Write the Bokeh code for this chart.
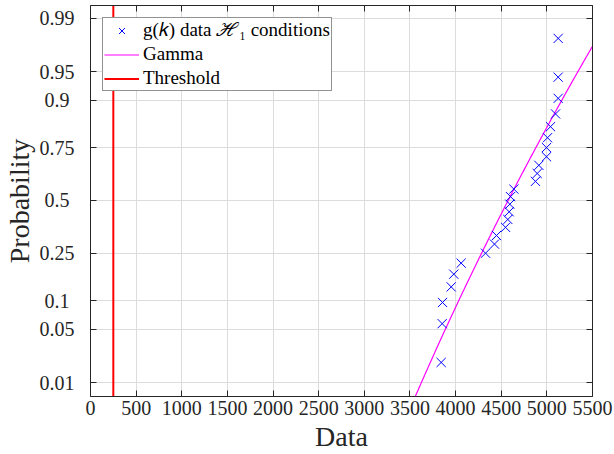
import math
from statistics import NormalDist

from bokeh.plotting import figure
from bokeh.models import (Range1d, FixedTicker, LinearAxis, Legend, LegendItem,
                          CustomJSTickFormatter)
from bokeh.embed import file_html
from bokeh.resources import INLINE

# Observed g(k) values under H1 conditions (sorted)
g_data = [3842, 3853, 3857, 3952, 3980, 4061, 4328, 4426, 4448, 4547,
          4572, 4587, 4594, 4602, 4638, 4875, 4894, 4912, 4996, 4996,
          5007, 5040, 5095, 5124, 5124, 5124]

# Fitted gamma distribution (shape k, scale theta)
gamma_shape = 108.0
gamma_scale = 42.5

# Detection threshold
threshold = 250

prob_ticks = [0.01, 0.05, 0.1, 0.25, 0.5, 0.75, 0.9, 0.95, 0.99]
prob_tick_labels = ["0.01", "0.05", "0.1", "0.25", "0.5", "0.75", "0.9", "0.95", "0.99"]
x_ticks = [0, 500, 1000, 1500, 2000, 2500, 3000, 3500, 4000, 4500, 5000, 5500]

FONT = "Liberation Serif"
INK = "#262626"
nd = NormalDist()


def prob_to_z(p):
    p = min(max(p, 1e-12), 1 - 1e-12)
    return nd.inv_cdf(p)


def gamma_cdf(x, k, theta):
    # regularized lower incomplete gamma P(k, x/theta) by series expansion
    t = x / theta
    if t <= 0:
        return 0.0
    term = 1.0 / k
    total = term
    m = 1
    while m < 5000:
        term *= t / (k + m)
        total += term
        if term < total * 1e-15:
            break
        m += 1
    return math.exp(-t + k * math.log(t) - math.lgamma(k)) * total


n = len(g_data)
plot_pos = [(i + 0.5) / n for i in range(n)]
data_z = [prob_to_z(p) for p in plot_pos]

fit_x = [3300 + 10 * i for i in range(231)]
fit_z = [prob_to_z(gamma_cdf(x, gamma_shape, gamma_scale)) for x in fit_x]

y_lo, y_hi = -2.505, 2.49

p = figure(width=614, height=454, output_backend="svg", toolbar_location=None,
           x_range=Range1d(0, 5500), y_range=Range1d(y_lo, y_hi),
           min_border_left=90, min_border_right=22, min_border_top=5,
           min_border_bottom=57, background_fill_color="white",
           border_fill_color="white")
p.outline_line_color = None

tick_z = [prob_to_z(v) for v in prob_ticks]

# bottom axis
xa = p.xaxis[0]
xa.ticker = FixedTicker(ticks=x_ticks)
xa.axis_label = "Data"
xa.axis_label_text_font = FONT
xa.axis_label_text_font_size = "28px"
xa.axis_label_text_font_style = "normal"
xa.axis_label_text_color = INK
xa.axis_label_standoff = 3
xa.major_label_text_font = FONT
xa.major_label_text_font_size = "20px"
xa.major_label_text_color = INK
xa.major_label_standoff = 4

# left axis on the normal-probability scale; shorter labels padded so the
# column reads centred
ya = p.yaxis[0]
ya.ticker = FixedTicker(ticks=tick_z)
ya.major_label_overrides = {
    z: (t if len(t) == 4 else t + "\u2008") for z, t in zip(tick_z, prob_tick_labels)
}
ya.major_label_text_font = FONT
ya.major_label_text_font_size = "20px"
ya.major_label_text_color = INK
ya.major_label_standoff = 16
ya.axis_label = "Probability"
ya.axis_label_text_font = FONT
ya.axis_label_text_font_size = "28px"
ya.axis_label_text_font_style = "normal"
ya.axis_label_text_color = INK
ya.axis_label_standoff = 2

for ax in (xa, ya):
    ax.axis_line_color = INK
    ax.major_tick_line_color = INK
    ax.major_tick_in = 6
    ax.major_tick_out = 0
    ax.minor_tick_line_color = None

# mirrored axes on top and right (ticks only)
blank = CustomJSTickFormatter(code="return '';")
top_ax = LinearAxis(ticker=FixedTicker(ticks=x_ticks), formatter=blank)
right_ax = LinearAxis(ticker=FixedTicker(ticks=tick_z), formatter=blank)
for ax in (top_ax, right_ax):
    ax.major_label_standoff = 0
    ax.axis_line_color = INK
    ax.major_tick_line_color = INK
    ax.major_tick_in = 6
    ax.major_tick_out = 0
    ax.minor_tick_line_color = None
p.add_layout(top_ax, "above")
p.add_layout(right_ax, "right")

p.xgrid.ticker = FixedTicker(ticks=x_ticks)
p.ygrid.ticker = FixedTicker(ticks=tick_z)
for g in (p.xgrid[0], p.ygrid[0]):
    g.grid_line_color = "#dcdcdc"
    g.grid_line_width = 1

thr = p.line([threshold, threshold], [y_lo, y_hi], line_color="#ff0000", line_width=2)
fit = p.line(fit_x, fit_z, line_color="#ff00ff", line_width=1.2)
pts = p.scatter(g_data, data_z, marker="x", size=13, line_color="#0000ff", line_width=1)

legend = Legend(items=[
    LegendItem(label="g(\U0001D458) data \u210B\u2081 conditions", renderers=[pts]),
    LegendItem(label="Gamma", renderers=[fit]),
    LegendItem(label="Threshold", renderers=[thr]),
], location="top_left")
legend.margin = 12
legend.padding = 1
legend.spacing = 2
legend.glyph_width = 35
legend.glyph_height = 21
legend.label_height = 21
legend.label_standoff = 4
legend.label_text_font = FONT
legend.label_text_font_size = "19px"
legend.label_text_color = "black"
legend.border_line_color = INK
legend.border_line_width = 1
legend.background_fill_color = "white"
legend.background_fill_alpha = 1
p.add_layout(legend, "center")

open("out.html", "w").write(file_html(p, INLINE))
